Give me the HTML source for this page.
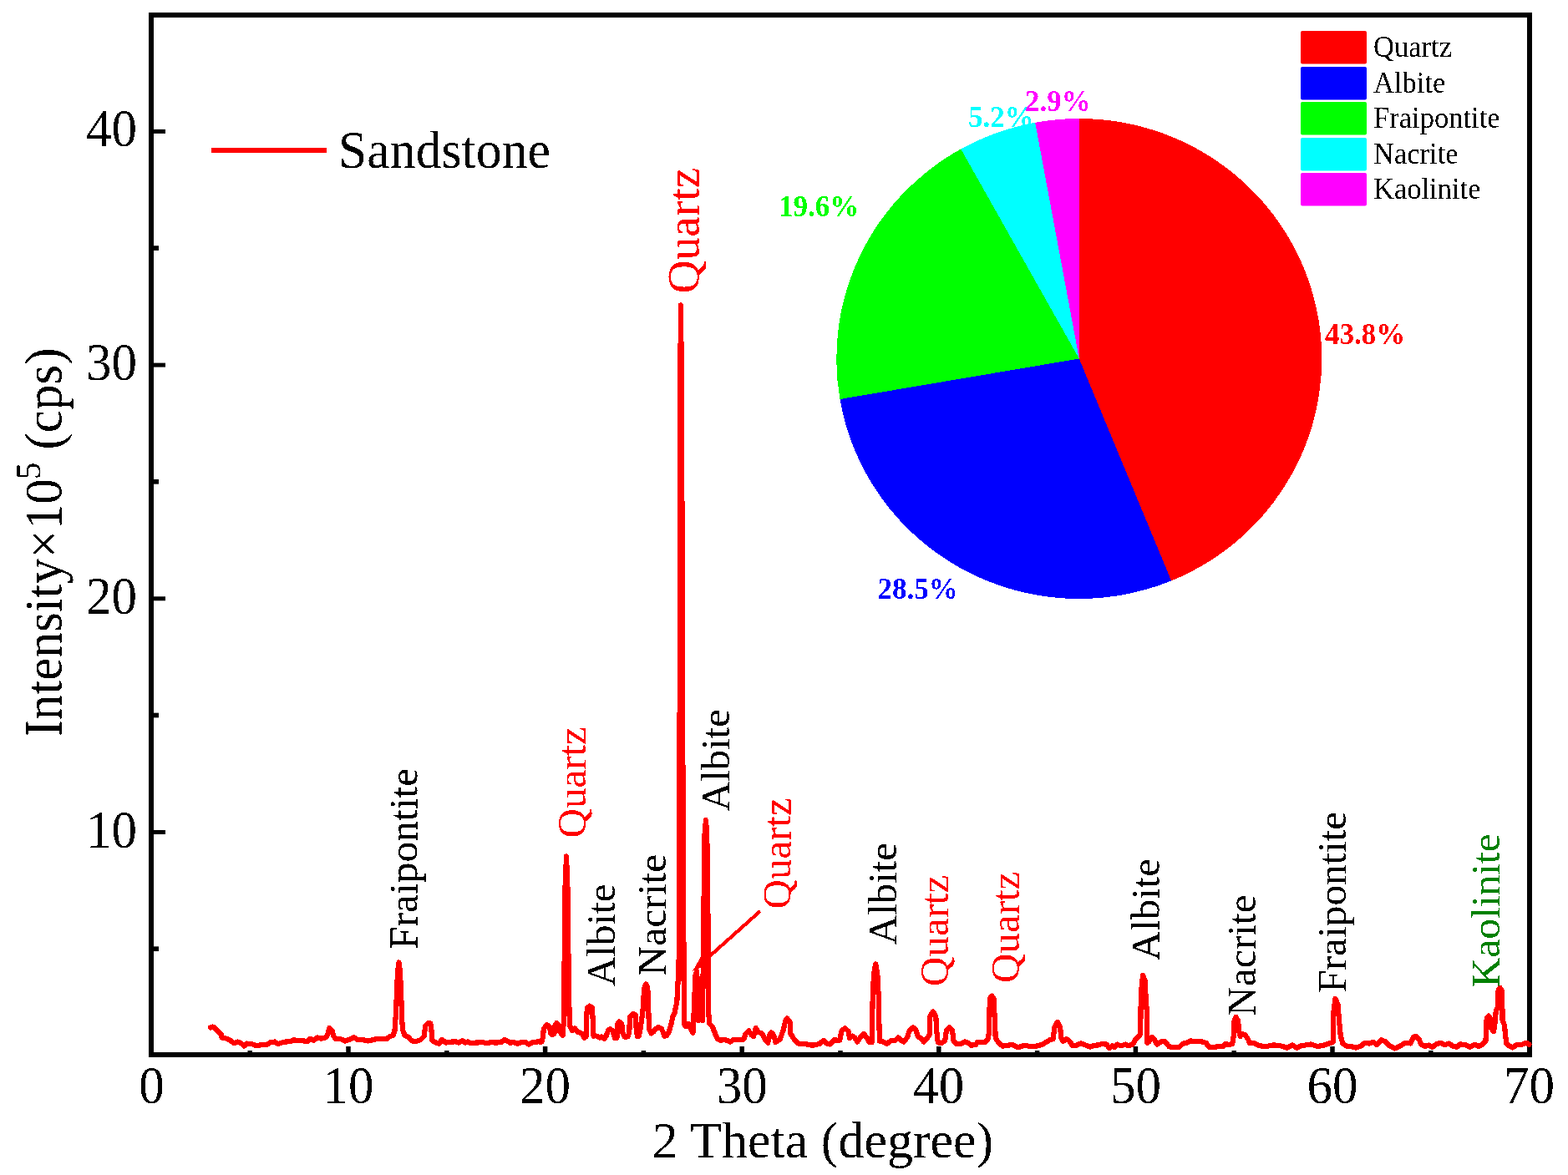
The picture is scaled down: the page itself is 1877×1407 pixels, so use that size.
<!DOCTYPE html>
<html><head><meta charset="utf-8"><title>XRD Sandstone</title>
<style>
html,body{margin:0;padding:0;background:#fff;width:1877px;height:1407px;overflow:hidden;}
svg{display:block;}
text{font-family:'Liberation Serif', 'Times New Roman', serif;}
</style></head><body>
<svg width="1877" height="1407" viewBox="0 0 1877 1407" font-family="'Liberation Serif', 'Times New Roman', serif"><defs><filter id="crisp" x="-5%" y="-5%" width="110%" height="110%"><feComponentTransfer><feFuncA type="discrete" tableValues="0 1"/></feComponentTransfer></filter></defs><g><path d="M1291.8,429.5 L1291.80,142.00 A290.5,287.5 0 0 1 1402.13,695.46 Z" fill="#ff0000" shape-rendering="crispEdges"/><path d="M1291.8,429.5 L1402.13,695.46 A290.5,287.5 0 0 1 1005.47,478.04 Z" fill="#0000ff" shape-rendering="crispEdges"/><path d="M1291.8,429.5 L1005.47,478.04 A290.5,287.5 0 0 1 1150.25,178.44 Z" fill="#00ff00" shape-rendering="crispEdges"/><path d="M1291.8,429.5 L1150.25,178.44 A290.5,287.5 0 0 1 1239.16,146.76 Z" fill="#00ffff" shape-rendering="crispEdges"/><path d="M1291.8,429.5 L1239.16,146.76 A290.5,287.5 0 0 1 1291.80,142.00 Z" fill="#ff00ff" shape-rendering="crispEdges"/></g><text filter="url(#crisp)" x="1586" y="412" fill="#ff0000" font-size="35" font-weight="bold">43.8%</text><text filter="url(#crisp)" x="1050.5" y="716.5" fill="#0000ff" font-size="35" font-weight="bold">28.5%</text><text filter="url(#crisp)" x="932" y="259" fill="#00ff00" font-size="35" font-weight="bold">19.6%</text><text filter="url(#crisp)" x="1159" y="152" fill="#00ffff" font-size="35" font-weight="bold">5.2%</text><text filter="url(#crisp)" x="1227" y="133" fill="#ff00ff" font-size="35" font-weight="bold">2.9%</text><rect x="1557" y="37" width="79" height="39.5" rx="2" fill="#ff0000"/><text filter="url(#crisp)" x="1644" y="68.3" font-size="35" fill="#000" textLength="94.0" lengthAdjust="spacingAndGlyphs">Quartz</text><rect x="1557" y="80" width="79" height="39.5" rx="2" fill="#0000ff"/><text filter="url(#crisp)" x="1644" y="110.8" font-size="35" fill="#000" textLength="86.3" lengthAdjust="spacingAndGlyphs">Albite</text><rect x="1557" y="122" width="79" height="39.5" rx="2" fill="#00ff00"/><text filter="url(#crisp)" x="1644" y="152.5" font-size="35" fill="#000" textLength="151.6" lengthAdjust="spacingAndGlyphs">Fraipontite</text><rect x="1557" y="165" width="79" height="39.5" rx="2" fill="#00ffff"/><text filter="url(#crisp)" x="1644" y="195.8" font-size="35" fill="#000" textLength="101.6" lengthAdjust="spacingAndGlyphs">Nacrite</text><rect x="1557" y="207" width="79" height="39.5" rx="2" fill="#ff00ff"/><text filter="url(#crisp)" x="1644" y="237.5" font-size="35" fill="#000" textLength="128.5" lengthAdjust="spacingAndGlyphs">Kaolinite</text><line x1="181" y1="996.5" x2="198" y2="996.5" stroke="#000" stroke-width="5"/><text filter="url(#crisp)" x="164" y="1014.5" font-size="64" text-anchor="end" textLength="61" lengthAdjust="spacingAndGlyphs">10</text><line x1="181" y1="716.8" x2="198" y2="716.8" stroke="#000" stroke-width="5"/><text filter="url(#crisp)" x="164" y="734.8" font-size="64" text-anchor="end" textLength="61" lengthAdjust="spacingAndGlyphs">20</text><line x1="181" y1="437.1" x2="198" y2="437.1" stroke="#000" stroke-width="5"/><text filter="url(#crisp)" x="164" y="455.1" font-size="64" text-anchor="end" textLength="61" lengthAdjust="spacingAndGlyphs">30</text><line x1="181" y1="157.4" x2="198" y2="157.4" stroke="#000" stroke-width="5"/><text filter="url(#crisp)" x="164" y="175.4" font-size="64" text-anchor="end" textLength="61" lengthAdjust="spacingAndGlyphs">40</text><line x1="181" y1="1136.2" x2="190" y2="1136.2" stroke="#000" stroke-width="5.7"/><line x1="181" y1="856.5" x2="190" y2="856.5" stroke="#000" stroke-width="5.7"/><line x1="181" y1="576.8" x2="190" y2="576.8" stroke="#000" stroke-width="5.7"/><line x1="181" y1="297.1" x2="190" y2="297.1" stroke="#000" stroke-width="5.7"/><text filter="url(#crisp)" x="181.4" y="1321" font-size="64" text-anchor="middle" textLength="30.5" lengthAdjust="spacingAndGlyphs">0</text><line x1="417.0" y1="1263" x2="417.0" y2="1253" stroke="#000" stroke-width="5.5"/><text filter="url(#crisp)" x="417.0" y="1321" font-size="64" text-anchor="middle" textLength="61" lengthAdjust="spacingAndGlyphs">10</text><line x1="652.6" y1="1263" x2="652.6" y2="1253" stroke="#000" stroke-width="5.5"/><text filter="url(#crisp)" x="652.6" y="1321" font-size="64" text-anchor="middle" textLength="61" lengthAdjust="spacingAndGlyphs">20</text><line x1="888.2" y1="1263" x2="888.2" y2="1253" stroke="#000" stroke-width="5.5"/><text filter="url(#crisp)" x="888.2" y="1321" font-size="64" text-anchor="middle" textLength="61" lengthAdjust="spacingAndGlyphs">30</text><line x1="1123.8" y1="1263" x2="1123.8" y2="1253" stroke="#000" stroke-width="5.5"/><text filter="url(#crisp)" x="1123.8" y="1321" font-size="64" text-anchor="middle" textLength="61" lengthAdjust="spacingAndGlyphs">40</text><line x1="1359.4" y1="1263" x2="1359.4" y2="1253" stroke="#000" stroke-width="5.5"/><text filter="url(#crisp)" x="1359.4" y="1321" font-size="64" text-anchor="middle" textLength="61" lengthAdjust="spacingAndGlyphs">50</text><line x1="1595.0" y1="1263" x2="1595.0" y2="1253" stroke="#000" stroke-width="5.5"/><text filter="url(#crisp)" x="1595.0" y="1321" font-size="64" text-anchor="middle" textLength="61" lengthAdjust="spacingAndGlyphs">60</text><text filter="url(#crisp)" x="1830.6" y="1321" font-size="64" text-anchor="middle" textLength="61" lengthAdjust="spacingAndGlyphs">70</text><line x1="299.2" y1="1263" x2="299.2" y2="1258" stroke="#000" stroke-width="5.5"/><line x1="534.8" y1="1263" x2="534.8" y2="1258" stroke="#000" stroke-width="5.5"/><line x1="770.4" y1="1263" x2="770.4" y2="1258" stroke="#000" stroke-width="5.5"/><line x1="1006.0" y1="1263" x2="1006.0" y2="1258" stroke="#000" stroke-width="5.5"/><line x1="1241.6" y1="1263" x2="1241.6" y2="1258" stroke="#000" stroke-width="5.5"/><line x1="1477.2" y1="1263" x2="1477.2" y2="1258" stroke="#000" stroke-width="5.5"/><line x1="1712.8" y1="1263" x2="1712.8" y2="1258" stroke="#000" stroke-width="5.5"/><rect x="181" y="18" width="1650" height="1245" fill="none" stroke="#000" stroke-width="6"/><path d="M251.9,1230.5 L254.5,1229.5 L257.0,1230.5 L261.3,1235.6 L264.7,1238.1 L265.6,1242.4 L269.8,1243.2 L275.8,1245.8 L280.0,1249.2 L284.3,1247.5 L288.6,1249.2 L292.0,1252.6 L295.4,1249.6 L301.4,1250.0 L306.5,1252.2 L312.5,1251.3 L319.3,1250.9 L323.5,1248.4 L328.7,1247.5 L332.9,1250.1 L338.0,1248.4 L342.3,1247.5 L347.4,1247.1 L351.7,1245.0 L355.1,1246.2 L361.0,1245.8 L366.2,1247.1 L368.7,1246.7 L371.3,1243.7 L375.5,1245.8 L379.8,1242.4 L384.9,1243.7 L390.0,1242.4 L392.6,1238.0 L394.3,1231.0 L397.7,1234.1 L399.4,1240.9 L401.9,1243.9 L407.0,1243.9 L413.0,1246.5 L418.1,1244.8 L423.7,1242.2 L428.4,1245.2 L434.3,1245.2 L440.3,1246.5 L446.3,1245.2 L451.4,1243.9 L458.2,1243.9 L463.3,1243.9 L466.7,1240.9 L470.5,1240.1 L472.5,1234.0 L473.5,1220.0 L474.5,1200.0 L475.5,1175.0 L476.5,1160.0 L477.5,1152.5 L478.5,1160.0 L479.5,1175.0 L480.5,1200.0 L481.0,1220.0 L482.3,1234.1 L484.6,1240.1 L488.9,1241.8 L492.3,1246.0 L497.4,1247.3 L503.4,1245.2 L507.6,1240.9 L509.4,1228.1 L512.8,1224.7 L515.3,1225.6 L516.5,1234.1 L517.5,1246.0 L520.4,1247.7 L525.5,1249.9 L529.0,1244.8 L534.1,1248.6 L539.2,1247.7 L545.2,1247.3 L549.4,1248.6 L553.6,1246.0 L557.0,1248.6 L560.0,1247.3 L563.0,1249.4 L569.0,1248.6 L577.5,1248.2 L582.6,1249.0 L587.7,1248.2 L594.6,1248.6 L600.5,1247.7 L603.9,1244.8 L608.2,1246.9 L610.8,1249.0 L614.2,1247.7 L619.3,1249.9 L623.5,1248.2 L629.5,1248.2 L632.9,1250.7 L638.0,1248.2 L644.0,1247.3 L648.3,1247.7 L650.0,1241.8 L650.8,1232.4 L654.2,1227.3 L657.6,1229.0 L659.4,1237.5 L661.0,1239.2 L663.6,1237.5 L664.5,1227.3 L666.2,1225.1 L668.7,1227.3 L670.4,1235.8 L673.5,1240.1 L674.7,1225.0 L675.3,1180.0 L675.8,1135.0 L676.6,1060.0 L678.0,1025.5 L679.4,1060.0 L680.3,1135.0 L681.0,1180.0 L681.6,1217.0 L682.4,1229.0 L684.9,1234.1 L688.3,1231.5 L691.7,1235.8 L694.0,1236.5 L696.4,1237.5 L699.6,1242.7 L701.5,1241.4 L701.9,1224.8 L702.8,1207.0 L706.0,1204.6 L708.9,1207.0 L709.8,1223.5 L710.5,1240.7 L712.4,1240.1 L715.6,1241.4 L718.1,1242.7 L720.0,1241.4 L723.2,1243.9 L725.8,1240.1 L728.4,1233.1 L730.3,1232.1 L733.5,1234.3 L736.0,1243.3 L738.6,1242.7 L739.2,1226.0 L741.2,1223.5 L744.3,1226.0 L745.6,1237.5 L747.5,1241.4 L751.4,1241.4 L753.3,1236.3 L753.9,1218.4 L757.8,1213.9 L761.0,1215.8 L761.6,1231.2 L762.9,1240.7 L764.8,1240.7 L766.5,1232.0 L768.0,1222.0 L769.5,1210.0 L770.5,1194.0 L771.3,1183.0 L773.3,1178.5 L775.3,1183.0 L775.8,1194.0 L776.5,1216.0 L777.0,1232.0 L779.5,1237.5 L782.1,1235.6 L784.6,1232.4 L787.8,1229.9 L791.7,1231.8 L793.6,1235.6 L795.5,1240.7 L798.2,1240.1 L801.0,1235.0 L803.5,1226.0 L805.5,1217.0 L807.5,1213.0 L810.3,1200.0 L811.6,1175.0 L812.6,1150.0 L813.1,1100.0 L813.4,1000.0 L813.7,800.0 L813.9,600.0 L814.3,450.0 L815.0,365.5 L815.8,450.0 L816.4,600.0 L817.0,800.0 L817.7,1000.0 L818.3,1100.0 L818.6,1175.0 L818.7,1226.0 L821.0,1229.0 L824.0,1226.0 L826.5,1231.0 L829.5,1237.0 L831.2,1200.0 L832.3,1168.0 L834.0,1163.0 L835.3,1200.0 L836.3,1222.0 L837.3,1195.0 L838.5,1172.0 L839.5,1172.0 L840.3,1200.0 L841.0,1222.0 L841.8,1150.0 L842.5,1083.0 L843.5,1000.0 L844.9,982.0 L846.3,1000.0 L847.3,1083.0 L848.0,1150.0 L848.4,1215.6 L849.3,1225.8 L852.7,1229.2 L856.1,1237.7 L858.6,1243.7 L862.9,1245.8 L867.2,1244.6 L874.0,1247.5 L879.1,1244.6 L885.9,1244.6 L890.2,1244.6 L892.7,1237.7 L896.2,1234.3 L899.6,1239.4 L902.1,1241.2 L904.7,1230.9 L908.1,1236.0 L912.3,1237.7 L915.8,1244.6 L919.2,1248.8 L921.7,1237.7 L923.4,1236.5 L926.0,1239.4 L928.5,1248.0 L933.7,1244.6 L937.9,1232.6 L940.5,1221.5 L942.2,1219.4 L945.6,1224.1 L946.4,1237.7 L950.7,1244.6 L955.8,1249.7 L962.6,1249.7 L969.5,1251.4 L975.4,1251.4 L981.4,1249.7 L985.7,1245.8 L989.9,1249.7 L993.3,1250.5 L998.5,1245.4 L1005.1,1245.8 L1007.7,1233.8 L1011.5,1231.3 L1015.4,1234.7 L1017.1,1243.2 L1020.5,1240.6 L1023.0,1242.3 L1026.4,1247.5 L1029.9,1242.3 L1034.1,1238.1 L1037.5,1242.3 L1040.1,1247.5 L1043.5,1248.3 L1043.9,1232.1 L1044.8,1191.2 L1046.1,1165.6 L1048.2,1154.5 L1050.3,1165.6 L1051.6,1191.2 L1052.5,1229.6 L1052.9,1246.6 L1057.1,1247.5 L1061.4,1250.0 L1067.4,1245.8 L1071.6,1245.8 L1075.1,1242.3 L1078.5,1245.8 L1081.9,1247.5 L1086.1,1242.3 L1088.7,1233.8 L1093.0,1230.4 L1096.4,1233.0 L1098.9,1241.5 L1102.3,1243.2 L1105.8,1247.5 L1110.0,1243.2 L1112.6,1238.9 L1113.4,1216.8 L1116.8,1211.5 L1120.3,1216.8 L1121.1,1233.8 L1122.8,1248.3 L1127.1,1249.2 L1131.3,1245.8 L1133.0,1233.8 L1136.5,1230.4 L1139.9,1233.8 L1141.6,1246.6 L1145.0,1250.0 L1150.1,1250.0 L1155.2,1247.5 L1158.4,1248.4 L1162.7,1251.8 L1167.8,1251.0 L1170.3,1247.6 L1175.5,1247.6 L1179.7,1247.6 L1183.1,1243.3 L1184.0,1234.8 L1184.4,1212.6 L1184.9,1195.6 L1187.4,1192.6 L1189.5,1195.6 L1190.8,1221.2 L1191.7,1242.5 L1195.1,1248.4 L1200.2,1252.7 L1206.2,1251.8 L1212.1,1251.0 L1218.9,1254.4 L1225.8,1251.8 L1234.3,1253.1 L1240.3,1252.7 L1247.1,1251.0 L1253.0,1247.6 L1257.3,1245.0 L1260.7,1244.2 L1262.4,1229.7 L1265.8,1224.0 L1269.2,1229.7 L1270.1,1242.5 L1272.6,1246.7 L1276.9,1244.2 L1280.3,1246.7 L1283.7,1251.8 L1288.0,1251.8 L1294.0,1249.3 L1298.2,1251.0 L1305.0,1253.5 L1310.2,1251.8 L1315.1,1251.4 L1318.5,1250.2 L1324.5,1250.6 L1327.9,1254.9 L1331.3,1252.3 L1333.9,1254.0 L1337.3,1250.6 L1341.5,1252.3 L1347.5,1250.6 L1350.9,1252.3 L1356.0,1250.6 L1359.4,1244.6 L1362.9,1241.2 L1365.0,1238.7 L1365.4,1222.5 L1365.8,1190.1 L1368.0,1168.0 L1370.5,1173.9 L1371.4,1190.1 L1372.7,1209.7 L1373.1,1226.7 L1373.5,1248.9 L1375.6,1247.2 L1379.1,1242.1 L1381.6,1244.6 L1385.0,1250.6 L1390.1,1247.2 L1394.4,1247.2 L1399.5,1253.2 L1403.8,1254.0 L1411.4,1254.0 L1415.7,1249.7 L1420.0,1248.9 L1425.1,1246.3 L1431.1,1247.2 L1437.9,1247.2 L1443.8,1248.9 L1447.3,1254.0 L1451.5,1254.0 L1458.3,1253.2 L1463.5,1253.2 L1467.7,1249.7 L1471.1,1251.4 L1475.3,1249.7 L1476.6,1241.2 L1477.1,1224.1 L1479.4,1217.7 L1482.2,1222.4 L1483.0,1234.3 L1484.7,1241.2 L1486.4,1237.7 L1490.7,1239.4 L1494.1,1244.6 L1495.8,1248.8 L1500.9,1248.8 L1507.7,1252.2 L1515.4,1253.1 L1524.8,1251.4 L1532.5,1252.2 L1541.0,1254.8 L1547.0,1251.4 L1552.1,1254.8 L1558.0,1252.2 L1569.1,1250.5 L1577.6,1253.1 L1585.3,1251.4 L1593.0,1248.8 L1595.6,1248.0 L1596.0,1224.1 L1596.4,1211.3 L1598.5,1196.0 L1601.5,1202.8 L1603.2,1224.1 L1604.9,1241.2 L1607.5,1249.7 L1612.6,1253.1 L1616.8,1252.9 L1622.8,1254.6 L1628.8,1252.9 L1633.9,1248.7 L1639.0,1249.5 L1644.1,1247.8 L1648.4,1251.2 L1653.5,1245.3 L1657.7,1247.0 L1662.9,1252.1 L1669.7,1255.5 L1676.5,1252.1 L1682.5,1248.7 L1688.4,1249.5 L1691.8,1241.8 L1695.3,1241.0 L1698.7,1244.4 L1701.2,1250.4 L1705.5,1252.9 L1710.6,1251.6 L1714.9,1253.8 L1719.1,1250.4 L1724.2,1248.7 L1729.4,1251.2 L1734.5,1249.5 L1739.6,1252.9 L1743.8,1253.8 L1748.1,1250.4 L1754.1,1251.2 L1759.2,1253.8 L1765.8,1250.6 L1769.6,1253.1 L1774.7,1250.6 L1778.5,1246.7 L1779.2,1227.5 L1779.8,1218.6 L1782.1,1216.6 L1784.3,1219.9 L1784.9,1230.7 L1788.1,1235.2 L1790.0,1221.2 L1790.7,1210.9 L1793.2,1205.8 L1793.6,1186.0 L1795.5,1182.8 L1797.7,1186.0 L1798.4,1208.4 L1798.4,1221.2 L1800.9,1227.5 L1802.2,1240.3 L1803.5,1249.9 L1806.7,1252.5 L1810.5,1254.4 L1815.6,1251.2 L1820.7,1251.2 L1827.1,1248.6 L1830.3,1250.6" fill="none" stroke="#ff0000" stroke-width="6.2" stroke-linejoin="round" stroke-linecap="round" shape-rendering="crispEdges"/><line x1="910" y1="1091" x2="836" y2="1157" stroke="#ff0000" stroke-width="4.2" shape-rendering="crispEdges"/><path d="M829.0,1163.0 L850.5,1154.0 L840.5,1142.8 Z" fill="#ff0000" shape-rendering="crispEdges"/><text filter="url(#crisp)" transform="translate(499.5,1137) rotate(-90)" x="0" y="0" font-size="49.5" fill="#000">Fraipontite</text><text filter="url(#crisp)" transform="translate(701,1003.5) rotate(-90)" x="0" y="0" font-size="49" fill="#ff0000">Quartz</text><text filter="url(#crisp)" transform="translate(736,1181) rotate(-90)" x="0" y="0" font-size="49" fill="#000">Albite</text><text filter="url(#crisp)" transform="translate(797,1168.5) rotate(-90)" x="0" y="0" font-size="49.5" fill="#000">Nacrite</text><text filter="url(#crisp)" transform="translate(836.5,351.5) rotate(-90)" x="0" y="0" font-size="55.5" fill="#ff0000">Quartz</text><text filter="url(#crisp)" transform="translate(873,971.5) rotate(-90)" x="0" y="0" font-size="49" fill="#000">Albite</text><text filter="url(#crisp)" transform="translate(946.5,1088.5) rotate(-90)" x="0" y="0" font-size="49" fill="#ff0000">Quartz</text><text filter="url(#crisp)" transform="translate(1073,1131.5) rotate(-90)" x="0" y="0" font-size="49" fill="#000">Albite</text><text filter="url(#crisp)" transform="translate(1135,1181) rotate(-90)" x="0" y="0" font-size="49" fill="#ff0000">Quartz</text><text filter="url(#crisp)" transform="translate(1219.7,1177) rotate(-90)" x="0" y="0" font-size="49" fill="#ff0000">Quartz</text><text filter="url(#crisp)" transform="translate(1387.6,1150.5) rotate(-90)" x="0" y="0" font-size="49" fill="#000">Albite</text><text filter="url(#crisp)" transform="translate(1502.7,1217) rotate(-90)" x="0" y="0" font-size="49.5" fill="#000">Nacrite</text><text filter="url(#crisp)" transform="translate(1611,1189) rotate(-90)" x="0" y="0" font-size="49.5" fill="#000">Fraipontite</text><text filter="url(#crisp)" transform="translate(1795,1182.5) rotate(-90)" x="0" y="0" font-size="49.5" fill="#008000">Kaolinite</text><line x1="253" y1="180" x2="391" y2="180" stroke="#ff0000" stroke-width="6"/><text filter="url(#crisp)" x="405" y="201" font-size="63" fill="#000" textLength="254" lengthAdjust="spacingAndGlyphs">Sandstone</text><text filter="url(#crisp)" x="985" y="1386" font-size="62" text-anchor="middle">2 Theta (degree)</text><text filter="url(#crisp)" transform="translate(73.5,882.5) rotate(-90) scale(0.97,1)" x="0" y="0" font-size="63">Intensity×10<tspan font-size="42" dx="-1" dy="-25.5">5</tspan><tspan dy="25.5"> (cps)</tspan></text></svg>
</body></html>
